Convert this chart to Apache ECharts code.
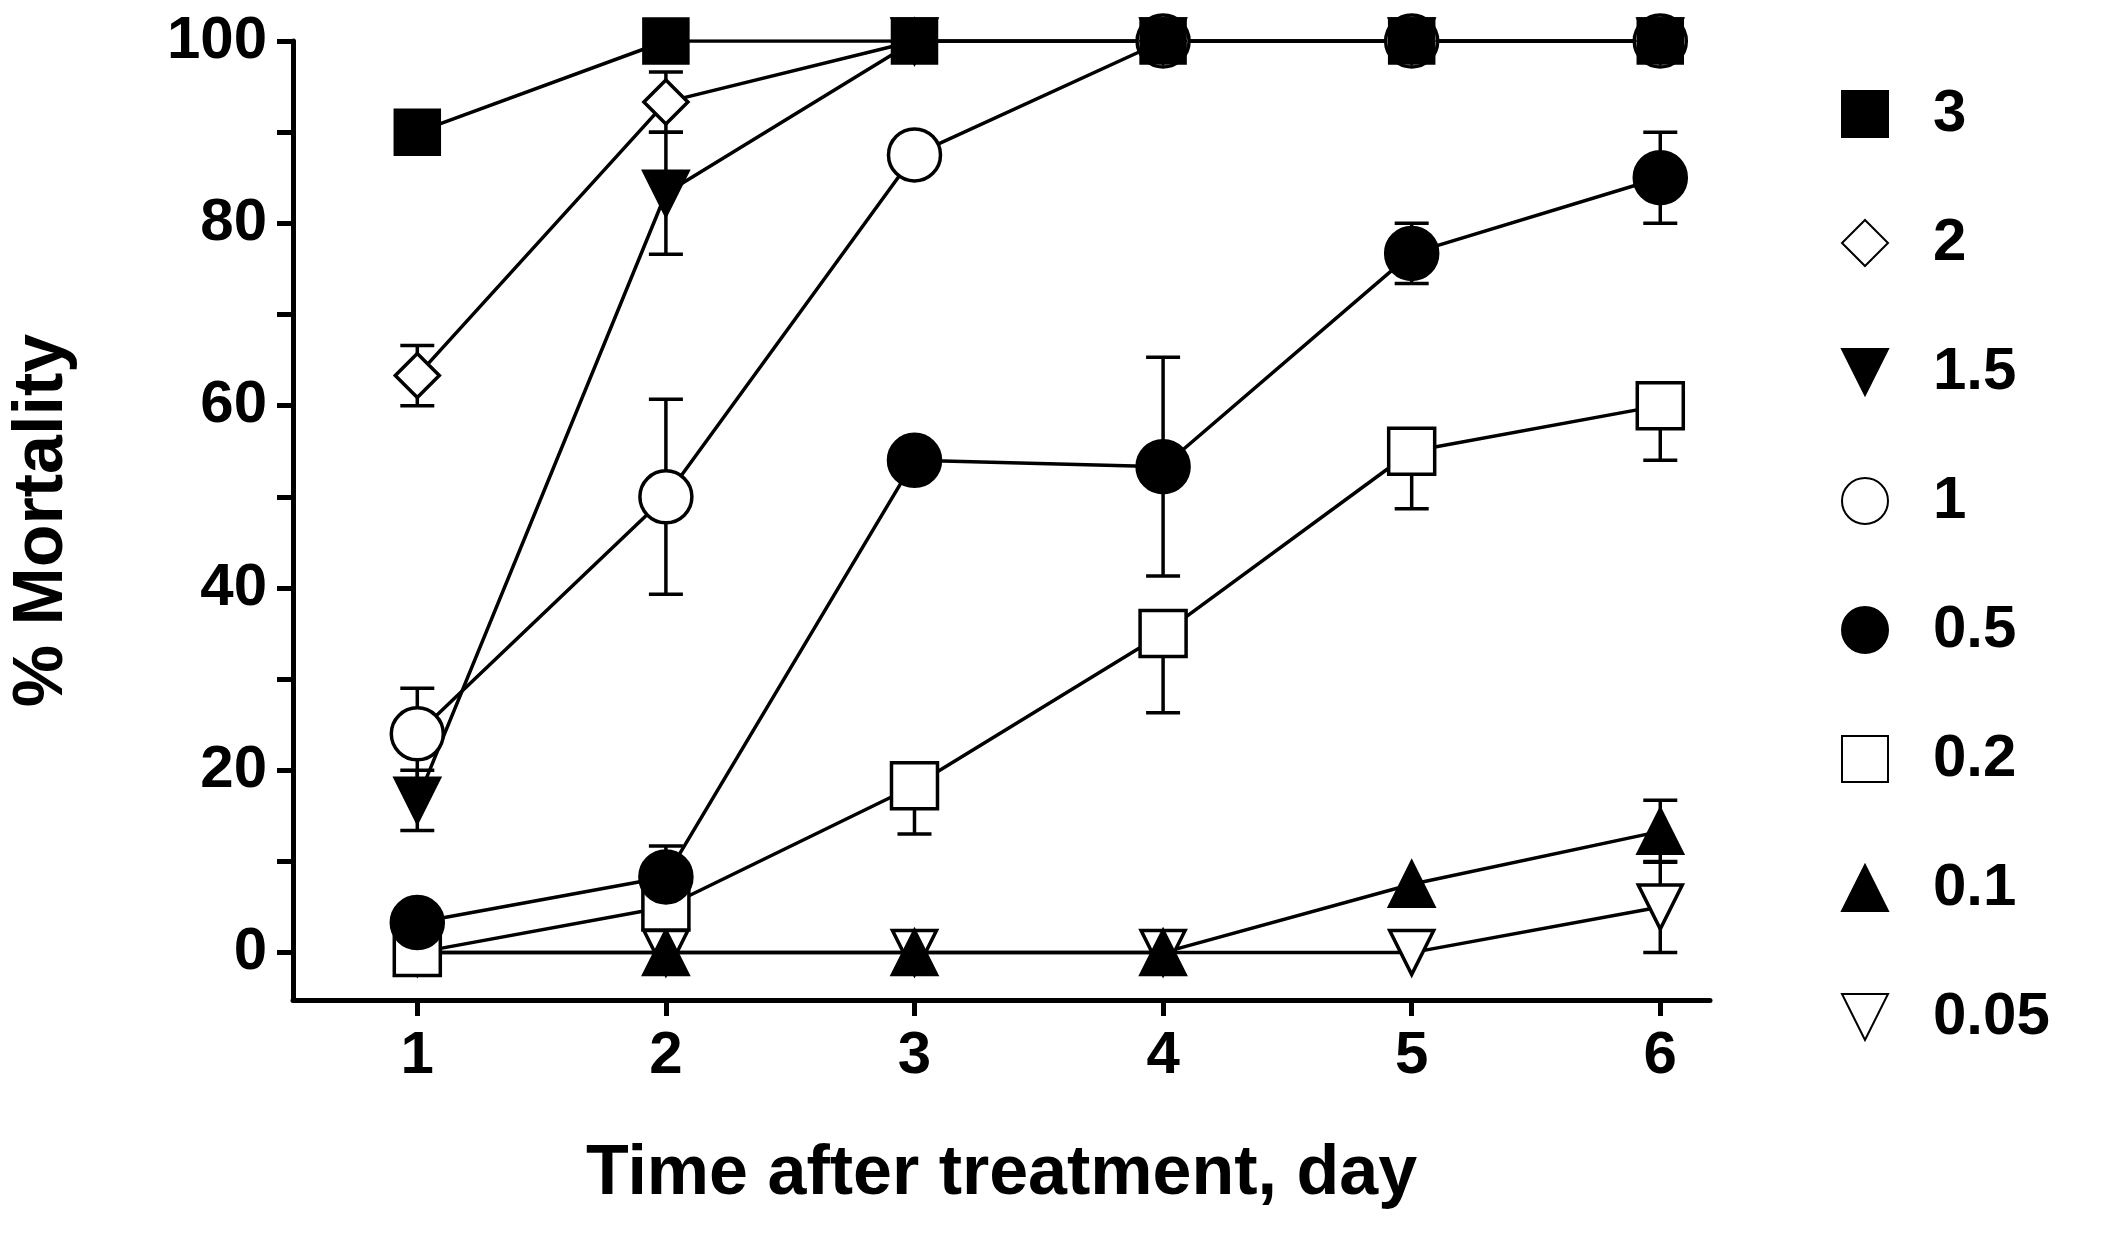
<!DOCTYPE html>
<html><head><meta charset="utf-8">
<script src="https://cdn.jsdelivr.net/npm/echarts@6/dist/echarts.min.js"></script>
<style>html,body{margin:0;background:#fff}#c{width:2120px;height:1241px}</style>
</head><body><div id="c"></div>
<script>
var days = [1, 2, 3, 4, 5, 6];
var names = ['3', '2', '1.5', '1', '0.5', '0.2', '0.1', '0.05'];
var d3 = [90, 100, 100, 100, 100, 100];
var d2 = [63.3, 93.3, 100, 100, 100, 100];
var d15 = [16.7, 83.3, 100, 100, 100, 100];
var d1 = [24, 50, 87.5, 100, 100, 100];
var d05 = [3.3, 8.3, 54, 53.3, 76.7, 85];
var d02 = [0, 5, 18.3, 35, 55, 60];
var d01 = [0, 0, 0, 0, 7.5, 13.3];
var d005 = [0, 0, 0, 0, 0, 5];
// standard errors (0 = none)
var e3 = [0, 0, 0, 0, 0, 0];
var e2 = [3.3, 3.3, 0, 0, 0, 0];
var e15 = [3.3, 6.7, 0, 0, 0, 0];
var e1 = [5, 10.7, 0, 0, 0, 0];
var e05 = [0, 3.4, 0, 12, 3.3, 5];
var e02 = [0, 0, 5.3, 8.7, 6.3, 6];
var e01 = [0, 0, 0, 0, 0, 3.4];
var e005 = [0, 0, 0, 0, 0, 5];
// which error bars show the upper whisker
var upper = [true, true, true, true, true, false, true, true];

var vals = [d3, d2, d15, d1, d05, d02, d01, d005];
var errs = [e3, e2, e15, e1, e05, e02, e01, e005];
var tri = 'path://M0,10L5,0L10,10Z';
var itri = 'path://M0,0L10,0L5,10Z';
var syms = ['rect', 'diamond', itri, 'circle', 'circle', 'rect', tri, itri];
var sizes = [44, 44, 44, 52, 52, 46, 44, 44];
var filled = [true, false, true, false, true, false, true, false];

var chart = echarts.init(document.getElementById('c'));
var series = [];
for (var i = vals.length - 1; i >= 0; i--) {
    var v = vals[i], eb = [];
    v.forEach(function (y, j) {
        if (errs[i][j] > 0) eb.push([days[j], y - errs[i][j], upper[i] ? y + errs[i][j] : y]);
    });
    series.push({
        type: 'custom', z: 1, silent: true,
        data: eb,
        renderItem: function (params, api) {
            var lo = api.coord([api.value(0), api.value(1)]);
            var hi = api.coord([api.value(0), api.value(2)]);
            var w = 17, st = {stroke: '#000', lineWidth: 3.5};
            return {type: 'group', children: [
                {type: 'line', shape: {x1: lo[0], y1: lo[1], x2: hi[0], y2: hi[1]}, style: st},
                {type: 'line', shape: {x1: lo[0] - w, y1: lo[1], x2: lo[0] + w, y2: lo[1]}, style: st},
                {type: 'line', shape: {x1: hi[0] - w, y1: hi[1], x2: hi[0] + w, y2: hi[1]}, style: st}
            ]};
        }
    });
    series.push({
        name: names[i], type: 'line', z: 3,
        data: v.map(function (y, j) { return [days[j], y]; }),
        symbol: syms[i], symbolSize: sizes[i], showSymbol: true,
        lineStyle: {color: '#000', width: 3.5},
        itemStyle: {color: filled[i] ? '#000' : '#fff', borderColor: '#000', borderWidth: 3.5},
        emphasis: {disabled: true}
    });
}

var font = {fontFamily: 'Liberation Sans', fontWeight: 'bold', color: '#000'};
chart.setOption({
    animation: false,
    grid: {left: 274, right: 410, top: 41, bottom: 241},
    legend: {
        orient: 'vertical', left: 1836, top: 79,
        itemWidth: 46, itemHeight: 46, itemGap: 69,
        data: names.map(function (n, i) { return {name: n, icon: syms[i]}; }),
        lineStyle: {width: 0, opacity: 0},
        textStyle: Object.assign({fontSize: 60, padding: [0, 0, 0, 40]}, font)
    },
    xAxis: {
        type: 'value', min: 0.5, max: 6.2,
        name: 'Time after treatment, day', nameLocation: 'middle', nameGap: 140,
        nameTextStyle: Object.assign({fontSize: 70}, font),
        axisLine: {onZero: false, lineStyle: {color: '#000', width: 5}},
        axisTick: {customValues: days, length: 16, lineStyle: {width: 5, color: '#000'}},
        axisLabel: Object.assign({customValues: days, fontSize: 60, margin: 26}, font),
        splitLine: {show: false}
    },
    yAxis: {
        type: 'value', min: -5.2, max: 100,
        name: '% Mortality', nameLocation: 'middle', nameGap: 215,
        nameTextStyle: Object.assign({fontSize: 70}, font),
        axisLine: {show: true, onZero: false, lineStyle: {color: '#000', width: 5}},
        axisTick: {customValues: [0, 10, 20, 30, 40, 50, 60, 70, 80, 90, 100], length: 16, lineStyle: {width: 5, color: '#000'}},
        axisLabel: Object.assign({customValues: [0, 20, 40, 60, 80, 100], fontSize: 60, margin: 26}, font),
        splitLine: {show: false}
    },
    series: series
});
</script></body></html>
